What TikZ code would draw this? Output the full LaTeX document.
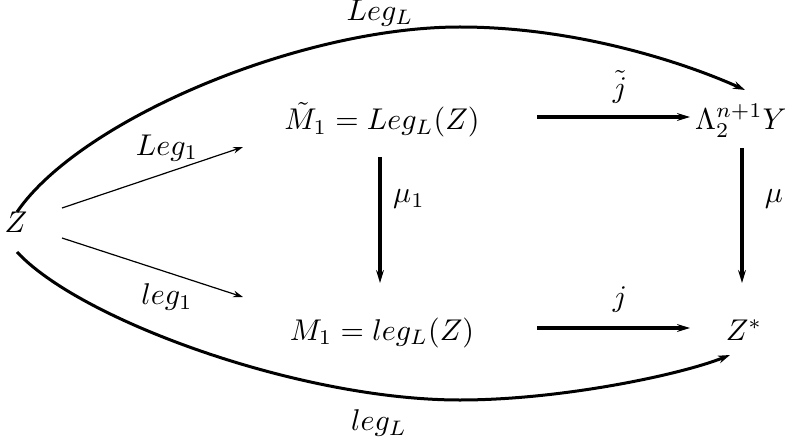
\documentclass[tikz,border=0pt]{standalone}
\usetikzlibrary{arrows.meta}
\tikzset{mapnode/.style={inner sep=0pt,anchor=base},
  maplabel/.style={inner sep=0pt},
  bigarr/.style={-{Stealth[length=4.3pt,width=2.6pt]},line width=1.1pt},
  curvearr/.style={-{Stealth[length=4pt,width=2.6pt]},line width=1pt},
  smallarr/.style={-{Stealth[length=3.3pt,width=2.2pt]},line width=0.4pt}}
\begin{document}
\begin{tikzpicture}[x=0.3333pt,y=-0.3333pt]
\useasboundingbox (0,0) rectangle (785,444);
% objects
\node[mapnode] (z) at (16,232) {$Z$};
\node[mapnode] (mt) at (382,130) {$\tilde{M}_1 = Leg_L(Z)$};
\node[mapnode] (lam) at (741,130) {$\Lambda_2^{n+1}Y$};
\node[mapnode] (m) at (382,340) {$M_1 = leg_L(Z)$};
\node[mapnode] (zs) at (744,340) {$Z^*$};
% arrow ends
\coordinate (z-ne) at (62,208);
\coordinate (z-se) at (62,238);
\coordinate (z-n) at (17,212);
\coordinate (z-s) at (17,252);
\coordinate (mt-w) at (243,147);
\coordinate (m-w) at (243,297);
\coordinate (mt-e) at (537,117);
\coordinate (lam-w) at (690,117);
\coordinate (m-e) at (537,328);
\coordinate (zs-w) at (690,328);
\coordinate (mt-s) at (380,157);
\coordinate (m-n) at (380,283);
\coordinate (lam-s) at (742,148);
\coordinate (zs-n) at (742,283);
\coordinate (lam-nw) at (745,90);
\coordinate (zs-sw) at (730,355);
% maps
\draw[smallarr] (z-ne) -- (mt-w);
\draw[smallarr] (z-se) -- (m-w);
\draw[bigarr] (mt-e) -- (lam-w);
\draw[bigarr] (m-e) -- (zs-w);
\draw[bigarr] (mt-s) -- (m-n);
\draw[bigarr] (lam-s) -- (zs-n);
\draw[curvearr] (z-n) .. controls (80,120) and (300,27) .. (460,27)
  .. controls (580,27) and (690,65) .. (lam-nw);
\draw[curvearr] (z-s) .. controls (80,320) and (300,400) .. (460,400)
  .. controls (560,400) and (680,375) .. (zs-sw);
% labels
\node[maplabel] (l-leg1) at (167,148) {$Leg_1$};
\node[maplabel] (l-leg1s) at (167,297) {$leg_1$};
\node[maplabel] (l-jt) at (620,87) {$\tilde{j}$};
\node[maplabel] (l-j) at (620,300) {$j$};
\node[maplabel] (l-mu1) at (409,199) {$\mu_1$};
\node[maplabel] (l-mu) at (774,199) {$\mu$};
\node[maplabel] (l-legL) at (380,13) {$Leg_L$};
\node[maplabel] (l-legLs) at (379,423) {$leg_L$};
\end{tikzpicture}
\end{document}
